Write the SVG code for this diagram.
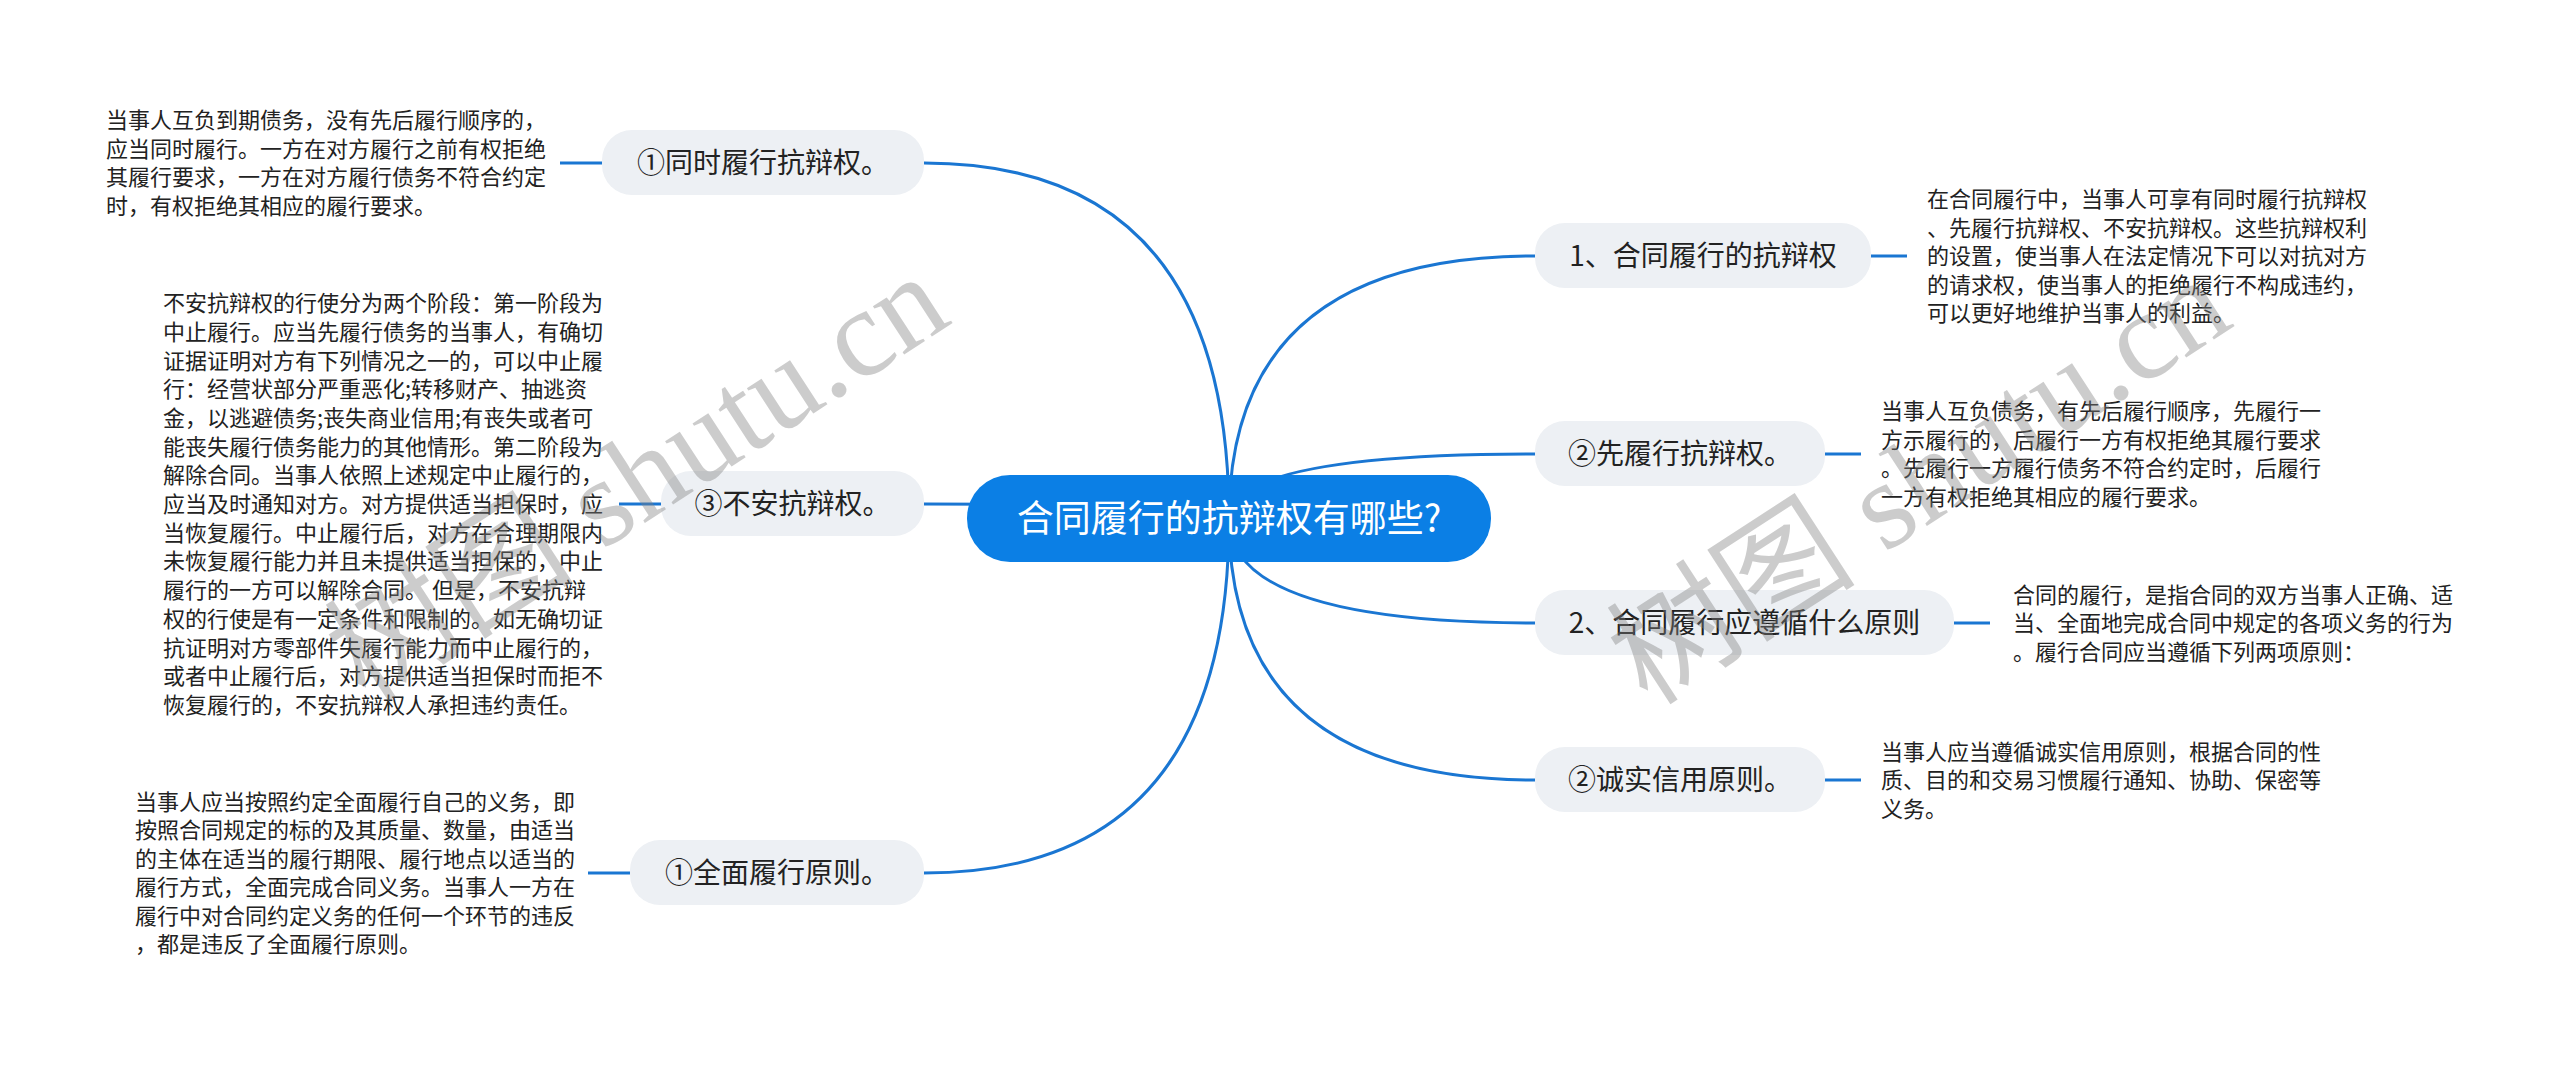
<svg xmlns="http://www.w3.org/2000/svg" width="2560" height="1065" viewBox="0 0 2560 1065">
<style>
.bg{fill:#ffffff}
.conn{fill:none;stroke:#1a76d2;stroke-width:3}
.root{fill:#0b7fe5}
.rootTxt{font-family:"Noto Sans CJK SC","Noto Sans",sans-serif;font-size:37px;fill:#ffffff;text-anchor:middle}
.topic{fill:#edf0f4}
.topicTxt{font-family:"Noto Sans CJK SC","Noto Sans",sans-serif;font-size:28px;fill:#222222;text-anchor:middle}
.note{font-family:"Noto Sans CJK SC","Noto Sans",sans-serif;font-size:22px;fill:#222222}
.wm{font-family:"Liberation Serif","Noto Sans CJK SC",serif;font-size:125px;fill:#808080;fill-opacity:0.4}
</style>
<rect class="bg" x="0" y="0" width="2560" height="1065"/>

<g id="connectors">
  <path class="conn" d="M1229 519 Q1229 256 1535 256"/>
  <path class="conn" d="M1229 519 Q1229 454 1535 454"/>
  <path class="conn" d="M1229 519 Q1229 623 1535 623"/>
  <path class="conn" d="M1229 519 Q1229 780 1535 780"/>
  <path class="conn" d="M1229 519 Q1229 163 924 163"/>
  <path class="conn" d="M1229 519 Q1229 504 924 504"/>
  <path class="conn" d="M1229 519 Q1229 873 924 873"/>
  <path class="conn" d="M1871 256 H1907"/>
  <path class="conn" d="M1825 454 H1861"/>
  <path class="conn" d="M1954 623 H1990"/>
  <path class="conn" d="M1825 780 H1861"/>
  <path class="conn" d="M602 163 H560"/>
  <path class="conn" d="M661 504 H619"/>
  <path class="conn" d="M630 873 H588"/>
</g>

<g id="root">
  <rect class="root" x="967" y="475" width="524" height="87" rx="43" ry="43"/>
  <text class="rootTxt" x="1229" y="532">合同履行的抗辩权有哪些?</text>
</g>

<g id="node-r1">
  <rect class="topic" x="1535" y="223" width="336" height="65" rx="30" ry="30"/>
  <text class="topicTxt" x="1703" y="266">1、合同履行的抗辩权</text>
</g>
<g id="note-r1">
  <text class="note" x="1927" y="207">
    <tspan x="1927" dy="0">在合同履行中，当事人可享有同时履行抗辩权</tspan>
    <tspan x="1927" dy="28.5">、先履行抗辩权、不安抗辩权。这些抗辩权利</tspan>
    <tspan x="1927" dy="28.5">的设置，使当事人在法定情况下可以对抗对方</tspan>
    <tspan x="1927" dy="28.5">的请求权，使当事人的拒绝履行不构成违约，</tspan>
    <tspan x="1927" dy="28.5">可以更好地维护当事人的利益。</tspan>
  </text>
</g>

<g id="node-r2">
  <rect class="topic" x="1535" y="421" width="290" height="65" rx="30" ry="30"/>
  <text class="topicTxt" x="1680" y="464">②先履行抗辩权。</text>
</g>
<g id="note-r2">
  <text class="note" x="1881" y="419.25">
    <tspan x="1881" dy="0">当事人互负债务，有先后履行顺序，先履行一</tspan>
    <tspan x="1881" dy="28.5">方示履行的，后履行一方有权拒绝其履行要求</tspan>
    <tspan x="1881" dy="28.5">。先履行一方履行债务不符合约定时，后履行</tspan>
    <tspan x="1881" dy="28.5">一方有权拒绝其相应的履行要求。</tspan>
  </text>
</g>

<g id="node-r3">
  <rect class="topic" x="1535" y="590" width="419" height="65" rx="30" ry="30"/>
  <text class="topicTxt" x="1744.5" y="633">2、合同履行应遵循什么原则</text>
</g>
<g id="note-r3">
  <text class="note" x="2013" y="602.5">
    <tspan x="2013" dy="0">合同的履行，是指合同的双方当事人正确、适</tspan>
    <tspan x="2013" dy="28.5">当、全面地完成合同中规定的各项义务的行为</tspan>
    <tspan x="2013" dy="28.5">。履行合同应当遵循下列两项原则：</tspan>
  </text>
</g>

<g id="node-r4">
  <rect class="topic" x="1535" y="747" width="290" height="65" rx="30" ry="30"/>
  <text class="topicTxt" x="1680" y="790">②诚实信用原则。</text>
</g>
<g id="note-r4">
  <text class="note" x="1881" y="759.5">
    <tspan x="1881" dy="0">当事人应当遵循诚实信用原则，根据合同的性</tspan>
    <tspan x="1881" dy="28.5">质、目的和交易习惯履行通知、协助、保密等</tspan>
    <tspan x="1881" dy="28.5">义务。</tspan>
  </text>
</g>

<g id="node-l1">
  <rect class="topic" x="602" y="130" width="322" height="65" rx="30" ry="30"/>
  <text class="topicTxt" x="763" y="173">①同时履行抗辩权。</text>
</g>
<g id="note-l1">
  <text class="note" x="106" y="128.25">
    <tspan x="106" dy="0">当事人互负到期债务，没有先后履行顺序的，</tspan>
    <tspan x="106" dy="28.5">应当同时履行。一方在对方履行之前有权拒绝</tspan>
    <tspan x="106" dy="28.5">其履行要求，一方在对方履行债务不符合约定</tspan>
    <tspan x="106" dy="28.5">时，有权拒绝其相应的履行要求。</tspan>
  </text>
</g>

<g id="node-l2">
  <rect class="topic" x="661" y="471" width="263" height="65" rx="30" ry="30"/>
  <text class="topicTxt" x="792.5" y="514">③不安抗辩权。</text>
</g>
<g id="note-l2">
  <text class="note" x="163" y="311.1">
    <tspan x="163" dy="0">不安抗辩权的行使分为两个阶段：第一阶段为</tspan>
    <tspan x="163" dy="28.7">中止履行。应当先履行债务的当事人，有确切</tspan>
    <tspan x="163" dy="28.7">证据证明对方有下列情况之一的，可以中止履</tspan>
    <tspan x="163" dy="28.7">行：经营状部分严重恶化;转移财产、抽逃资</tspan>
    <tspan x="163" dy="28.7">金，以逃避债务;丧失商业信用;有丧失或者可</tspan>
    <tspan x="163" dy="28.7">能丧失履行债务能力的其他情形。第二阶段为</tspan>
    <tspan x="163" dy="28.7">解除合同。当事人依照上述规定中止履行的，</tspan>
    <tspan x="163" dy="28.7">应当及时通知对方。对方提供适当担保时，应</tspan>
    <tspan x="163" dy="28.7">当恢复履行。中止履行后，对方在合理期限内</tspan>
    <tspan x="163" dy="28.7">未恢复履行能力并且未提供适当担保的，中止</tspan>
    <tspan x="163" dy="28.7">履行的一方可以解除合同。 但是，不安抗辩</tspan>
    <tspan x="163" dy="28.7">权的行使是有一定条件和限制的。如无确切证</tspan>
    <tspan x="163" dy="28.7">抗证明对方零部件失履行能力而中止履行的，</tspan>
    <tspan x="163" dy="28.7">或者中止履行后，对方提供适当担保时而拒不</tspan>
    <tspan x="163" dy="28.7">恢复履行的，不安抗辩权人承担违约责任。</tspan>
  </text>
</g>

<g id="node-l3">
  <rect class="topic" x="630" y="840" width="294" height="65" rx="30" ry="30"/>
  <text class="topicTxt" x="777" y="883">①全面履行原则。</text>
</g>
<g id="note-l3">
  <text class="note" x="135" y="809.75">
    <tspan x="135" dy="0">当事人应当按照约定全面履行自己的义务，即</tspan>
    <tspan x="135" dy="28.5">按照合同规定的标的及其质量、数量，由适当</tspan>
    <tspan x="135" dy="28.5">的主体在适当的履行期限、履行地点以适当的</tspan>
    <tspan x="135" dy="28.5">履行方式，全面完成合同义务。当事人一方在</tspan>
    <tspan x="135" dy="28.5">履行中对合同约定义务的任何一个环节的违反</tspan>
    <tspan x="135" dy="28.5">，都是违反了全面履行原则。</tspan>
  </text>
</g>

<g id="watermarks">
  <text class="wm" transform="translate(366,704) rotate(-33)">树图 shutu.cn</text>
  <text class="wm" transform="translate(1648,707) rotate(-33)">树图 shutu.cn</text>
</g>
</svg>
